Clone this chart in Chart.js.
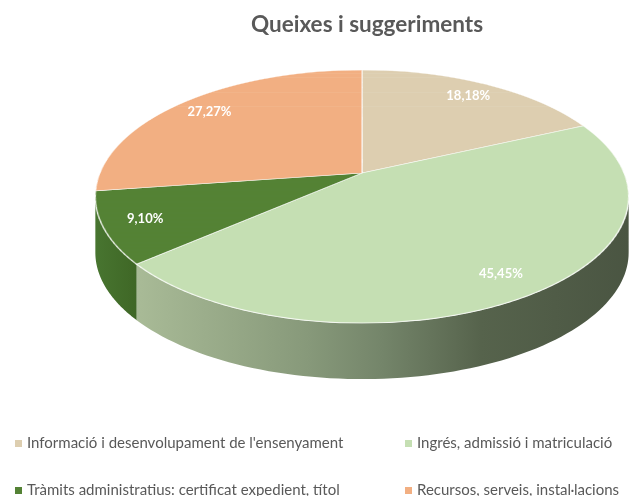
<!DOCTYPE html>
<html>
<head>
<meta charset="utf-8">
<script src="https://cdn.jsdelivr.net/npm/chart.js@4/dist/chart.umd.min.js"></script>
<style>
  html, body { margin: 0; padding: 0; background: #fff; }
  #wrap { position: relative; width: 630px; height: 496px; overflow: hidden; }
  #pie { position: absolute; left: 0; top: 0; }
  #legend { position: absolute; left: 0; top: 433px; width: 630px; font-family: Lato, "Open Sans", sans-serif; font-size: 15px; color: #595959; }
  .item { position: absolute; white-space: nowrap; line-height: 18px; }
  .item i { display: inline-block; width: 7px; height: 7px; margin-right: 5px; vertical-align: 1px; }
</style>
</head>
<body>
<div id="wrap">
  <canvas id="pie" width="630" height="496"></canvas>
  <div id="legend"></div>
</div>
<script>
document.addEventListener("DOMContentLoaded", function () {
  const categories = [
    "Informació i desenvolupament de l'ensenyament",
    "Ingrés, admissió i matriculació",
    "Tràmits administratius: certificat expedient, títol",
    "Recursos, serveis, instal·lacions"
  ];
  const values = [18.18, 45.45, 9.10, 27.27]; // percentatges
  const colors = ["#DDCEB0", "#C5DFB3", "#548235", "#F2AF82"];

  // perspective of the 3D pie (screen pixels)
  const CX = 362, KX = 262, DEPTH = 56;
  const PA = 90, PB = 173, PC = -0.186;
  const T0 = 0.187, T1 = Math.PI - 0.187; // visible side range

  function proj(u, v) {
    const w = 1 + PC * v;
    return [CX + KX * u / w, (PA * v + PB) / w];
  }

  function sideFill(ctx, i) {
    if (i === 1) {
      const g = ctx.createLinearGradient(135, 0, 629, 0);
      g.addColorStop(0, "#a9bb97");
      g.addColorStop(0.35, "#87997a");
      g.addColorStop(0.5, "#74856a");
      g.addColorStop(0.7, "#56634c");
      g.addColorStop(1, "#4a5542");
      return g;
    }
    if (i === 2) {
      const g = ctx.createLinearGradient(95, 0, 140, 0);
      g.addColorStop(0, "#487530");
      g.addColorStop(1, "#3e6625");
      return g;
    }
    return i === 3 ? "#c98d63" : "#b8a98c";
  }

  const pie3d = {
    id: "pie3d",
    beforeDatasetsDraw(chart) {
      const ctx = chart.ctx;
      const arcs = chart.getDatasetMeta(0).data;
      const R = arcs[0].outerRadius, ax = arcs[0].x, ay = arcs[0].y;

      // sides
      arcs.forEach(function (arc, i) {
        const s = Math.max(arc.startAngle, T0), e = Math.min(arc.endAngle, T1);
        if (e <= s) return;
        const n = 80;
        ctx.beginPath();
        for (let k = 0; k <= n; k++) {
          const t = s + (e - s) * k / n;
          const p = proj(Math.cos(t), Math.sin(t));
          if (k === 0) ctx.moveTo(p[0], p[1]); else ctx.lineTo(p[0], p[1]);
        }
        for (let k = n; k >= 0; k--) {
          const t = s + (e - s) * k / n;
          const p = proj(Math.cos(t), Math.sin(t));
          ctx.lineTo(p[0], p[1] + DEPTH);
        }
        ctx.closePath();
        ctx.fillStyle = sideFill(ctx, i);
        ctx.fill();
      });

      // top face, drawn in thin strips so the circle gets a perspective look
      const N = 220;
      for (let j = 0; j < N; j++) {
        const v0 = -1 + 2 * j / N, v1 = -1 + 2 * (j + 1) / N, vm = (v0 + v1) / 2;
        const w = 1 + PC * vm;
        const sx = KX / w / R, sy = (PA - PC * PB) / (w * w) / R;
        const ym = (PA * vm + PB) / w;
        const top = j === 0 ? v0 - 0.05 : v0;
        const bot = j === N - 1 ? v1 + 0.05 : v1 + (v1 - v0) * 0.8;
        ctx.save();
        ctx.translate(CX, ym);
        ctx.scale(sx, sy);
        ctx.translate(-ax, -(ay + vm * R));
        ctx.beginPath();
        ctx.rect(ax - R - 5, ay + top * R, 2 * R + 10, (bot - top) * R);
        ctx.clip();
        arcs.forEach(function (a) { a.draw(ctx); });
        ctx.restore();
      }

      // data labels
      ctx.save();
      ctx.fillStyle = "#ffffff";
      ctx.font = "bold 13px Lato, 'Open Sans', sans-serif";
      ctx.textAlign = "center";
      ctx.textBaseline = "middle";
      arcs.forEach(function (arc, i) {
        const t = (arc.startAngle + arc.endAngle) / 2;
        const p = proj(0.85 * Math.cos(t), 0.85 * Math.sin(t));
        ctx.fillText(values[i].toFixed(2).replace(".", ",") + "%", p[0], p[1]);
      });
      ctx.restore();
      return false;
    }
  };

  const ctx = document.getElementById("pie").getContext("2d");
  new Chart(ctx, {
    type: "pie",
    data: {
      labels: categories,
      datasets: [{
        data: values,
        backgroundColor: colors,
        borderColor: "rgba(255,255,255,0.75)",
        borderWidth: 0.8
      }]
    },
    options: {
      responsive: false,
      animation: false,
      layout: { padding: { left: 104, right: 0, top: 0, bottom: 150 } },
      plugins: {
        legend: { display: false },
        tooltip: { enabled: false },
        title: {
          display: true,
          fullSize: false,
          text: "Queixes i suggeriments",
          color: "#595959",
          font: { family: "Lato, 'Open Sans', sans-serif", size: 22.5, weight: "bold" },
          padding: { top: 11, bottom: 10 }
        }
      }
    },
    plugins: [pie3d]
  });

  // legend, two columns
  const legend = document.getElementById("legend");
  const colX = [15, 405];
  categories.forEach(function (name, i) {
    const el = document.createElement("div");
    el.className = "item";
    el.style.left = colX[i % 2] + "px";
    el.style.top = (Math.floor(i / 2) * 47) + "px";
    const box = document.createElement("i");
    box.style.background = colors[i];
    el.appendChild(box);
    el.appendChild(document.createTextNode(name));
    legend.appendChild(el);
  });
});
</script>
</body>
</html>
